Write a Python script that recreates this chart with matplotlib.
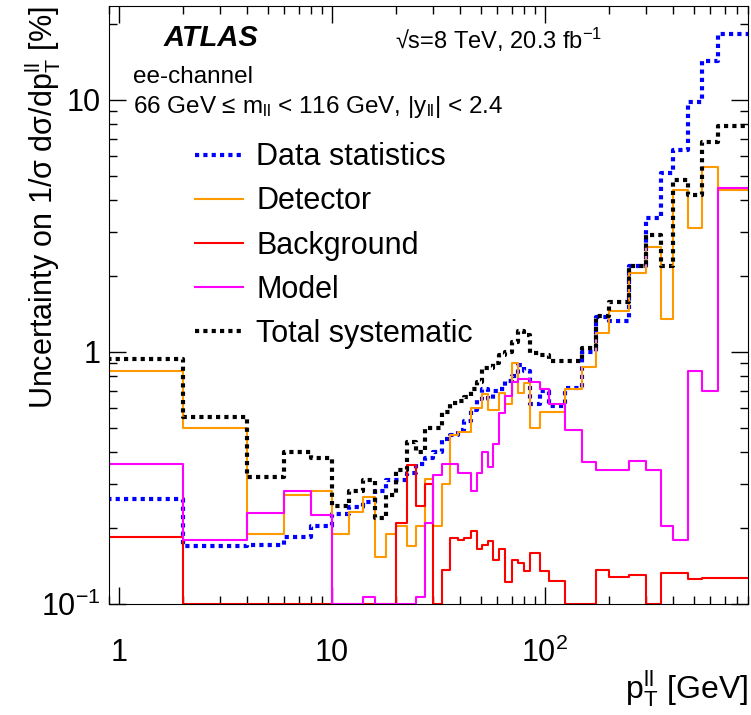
import matplotlib
matplotlib.use("Agg")
import matplotlib.pyplot as plt
import numpy as np

plt.rcParams["font.family"] = ["Liberation Sans", "DejaVu Sans"]
plt.rcParams["mathtext.fontset"] = "custom"
plt.rcParams["mathtext.rm"] = "Liberation Sans"
plt.rcParams["mathtext.it"] = "Liberation Sans:italic"
plt.rcParams["mathtext.bf"] = "Liberation Sans:bold"

# pT(ll) bin edges [GeV]
edges = [0, 2, 4, 6, 8, 10, 12, 14, 16, 18, 20, 22.5, 25, 27.5, 30, 33, 36, 39,
         42, 45, 48, 51, 54, 57, 61, 65, 70, 75, 80, 85, 95, 105, 125, 150, 175,
         200, 250, 300, 350, 400, 470, 550, 650, 900]

# relative uncertainties [%] per bin (values at/below 0.1 sit on the axis)
data_stat = [0.26, 0.17, 0.172, 0.185, 0.205, 0.227, 0.243, 0.254, 0.28, 0.31,
             0.31, 0.33, 0.36, 0.38, 0.40, 0.45, 0.47, 0.49, 0.53, 0.59, 0.65,
             0.71, 0.65, 0.70, 0.71, 0.77, 0.80, 0.89, 0.84, 0.62, 0.70, 0.61,
             0.72, 1.0, 1.37, 1.33, 2.2, 3.4, 5.1, 6.3, 9.8, 14.2, 18.2]
detector = [0.84, 0.50, 0.19, 0.27, 0.28, 0.19, 0.232, 0.266, 0.154, 0.19,
            0.205, 0.17, 0.204, 0.313, 0.205, 0.30, 0.47, 0.48, 0.48, 0.60, 0.60,
            0.68, 0.59, 0.59, 0.69, 0.62, 0.90, 0.69, 0.75, 0.50, 0.58, 0.58,
            0.71, 0.87, 1.19, 1.45, 2.05, 2.6, 1.35, 4.4, 3.1, 5.4, 4.4]
background = [0.185, 0.1, 0.1, 0.1, 0.1, 0.1, 0.1, 0.1, 0.1, 0.1,
              0.21, 0.357, 0.245, 0.30, 0.1, 0.136, 0.183, 0.18, 0.183, 0.195,
              0.165, 0.172, 0.178, 0.15, 0.165, 0.122, 0.15, 0.145, 0.135, 0.16,
              0.135, 0.124, 0.1, 0.1, 0.137, 0.128, 0.13, 0.1, 0.133, 0.133,
              0.126, 0.127, 0.127]
model = [0.36, 0.18, 0.23, 0.28, 0.225, 0.1, 0.1, 0.107, 0.1, 0.1,
         0.1, 0.1, 0.107, 0.21, 0.325, 0.36, 0.36, 0.33, 0.33, 0.28, 0.33,
         0.40, 0.35, 0.43, 0.575, 0.67, 0.76, 0.78, 0.78, 0.76, 0.71, 0.62,
         0.49, 0.366, 0.34, 0.34, 0.37, 0.34, 0.205, 0.18, 0.84, 0.70, 4.45]
total_syst = [0.94, 0.55, 0.32, 0.40, 0.38, 0.245, 0.28, 0.31, 0.22, 0.27,
              0.34, 0.44, 0.40, 0.50, 0.50, 0.58, 0.63, 0.64, 0.66, 0.71, 0.76,
              0.86, 0.86, 0.90, 0.97, 1.0, 1.09, 1.21, 1.17, 0.99, 0.97, 0.92,
              0.92, 1.04, 1.39, 1.58, 2.2, 2.9, 2.2, 4.8, 4.2, 6.8, 7.9]

series = [
    ("Data statistics", data_stat, "#0000ff", (0, (1, 1)), 3.0),
    ("Detector", detector, "#ff9900", "-", 1.5),
    ("Background", background, "#ff0000", "-", 1.5),
    ("Model", model, "#ff00ff", "-", 1.5),
    ("Total systematic", total_syst, "#000000", (0, (1, 1)), 3.0),
]

fig = plt.figure(figsize=(7.51, 7.15), dpi=100)
ax = fig.add_axes([0.145, 0.155, 0.851, 0.8365])

for label, vals, color, ls, lw in series:
    y = list(vals) + [vals[-1]]
    ax.step(edges, y, where="post", color=color, linestyle=ls, linewidth=lw,
            label=label)

ax.set_xscale("log")
ax.set_yscale("log")
ax.set_xlim(0.9, 900)
ax.set_ylim(0.1, 23.5)

ax.set_xticks([1, 10, 100])
ax.set_xticklabels(["1", "10", "$10^{2}$"])
ax.set_yticks([0.1, 1, 10])
ax.set_yticklabels(["$10^{-1}$", "1", "10"])
ax.tick_params(which="both", direction="in", top=True, right=True,
               labelsize=22)
ax.tick_params(which="major", length=12, width=1)
ax.tick_params(which="minor", length=6, width=1)
ax.tick_params(axis="x", pad=24)
ax.tick_params(axis="y", pad=6)
for sp in ax.spines.values():
    sp.set_zorder(5)

ax.set_xlabel(r"p$_{\mathrm{T}}^{\mathrm{ll}}$ [GeV]", fontsize=23, loc="right")
ax.xaxis.set_label_coords(1.0, -0.107)
ax.set_ylabel(r"Uncertainty on 1/σ dσ/dp$_{\mathrm{T}}^{\mathrm{ll}}$ [%]",
              fontsize=22, loc="top")
ax.yaxis.set_label_coords(-0.072, 1.0)

ax.text(0.085, 0.946, "ATLAS", transform=ax.transAxes, fontsize=21,
        fontweight="bold", fontstyle="italic", va="center")
ax.text(0.448, 0.943, r"√s=8 TeV, 20.3 fb$^{-1}$", transform=ax.transAxes,
        fontsize=17, va="center")
ax.text(0.038, 0.882, "ee-channel", transform=ax.transAxes, fontsize=17.5,
        va="center")
ax.text(0.038, 0.831,
        r"66 GeV ≤ m$_{\mathrm{ll}}$ < 116 GeV, |y$_{\mathrm{ll}}$| < 2.4",
        transform=ax.transAxes, fontsize=17.5, va="center")

ax.legend(loc="upper left", bbox_to_anchor=(0.135, 0.772), frameon=False,
          fontsize=22, handlelength=1.55, handletextpad=0.45,
          labelspacing=0.46, borderpad=0, borderaxespad=0)

fig.savefig("out.png", dpi=100)
